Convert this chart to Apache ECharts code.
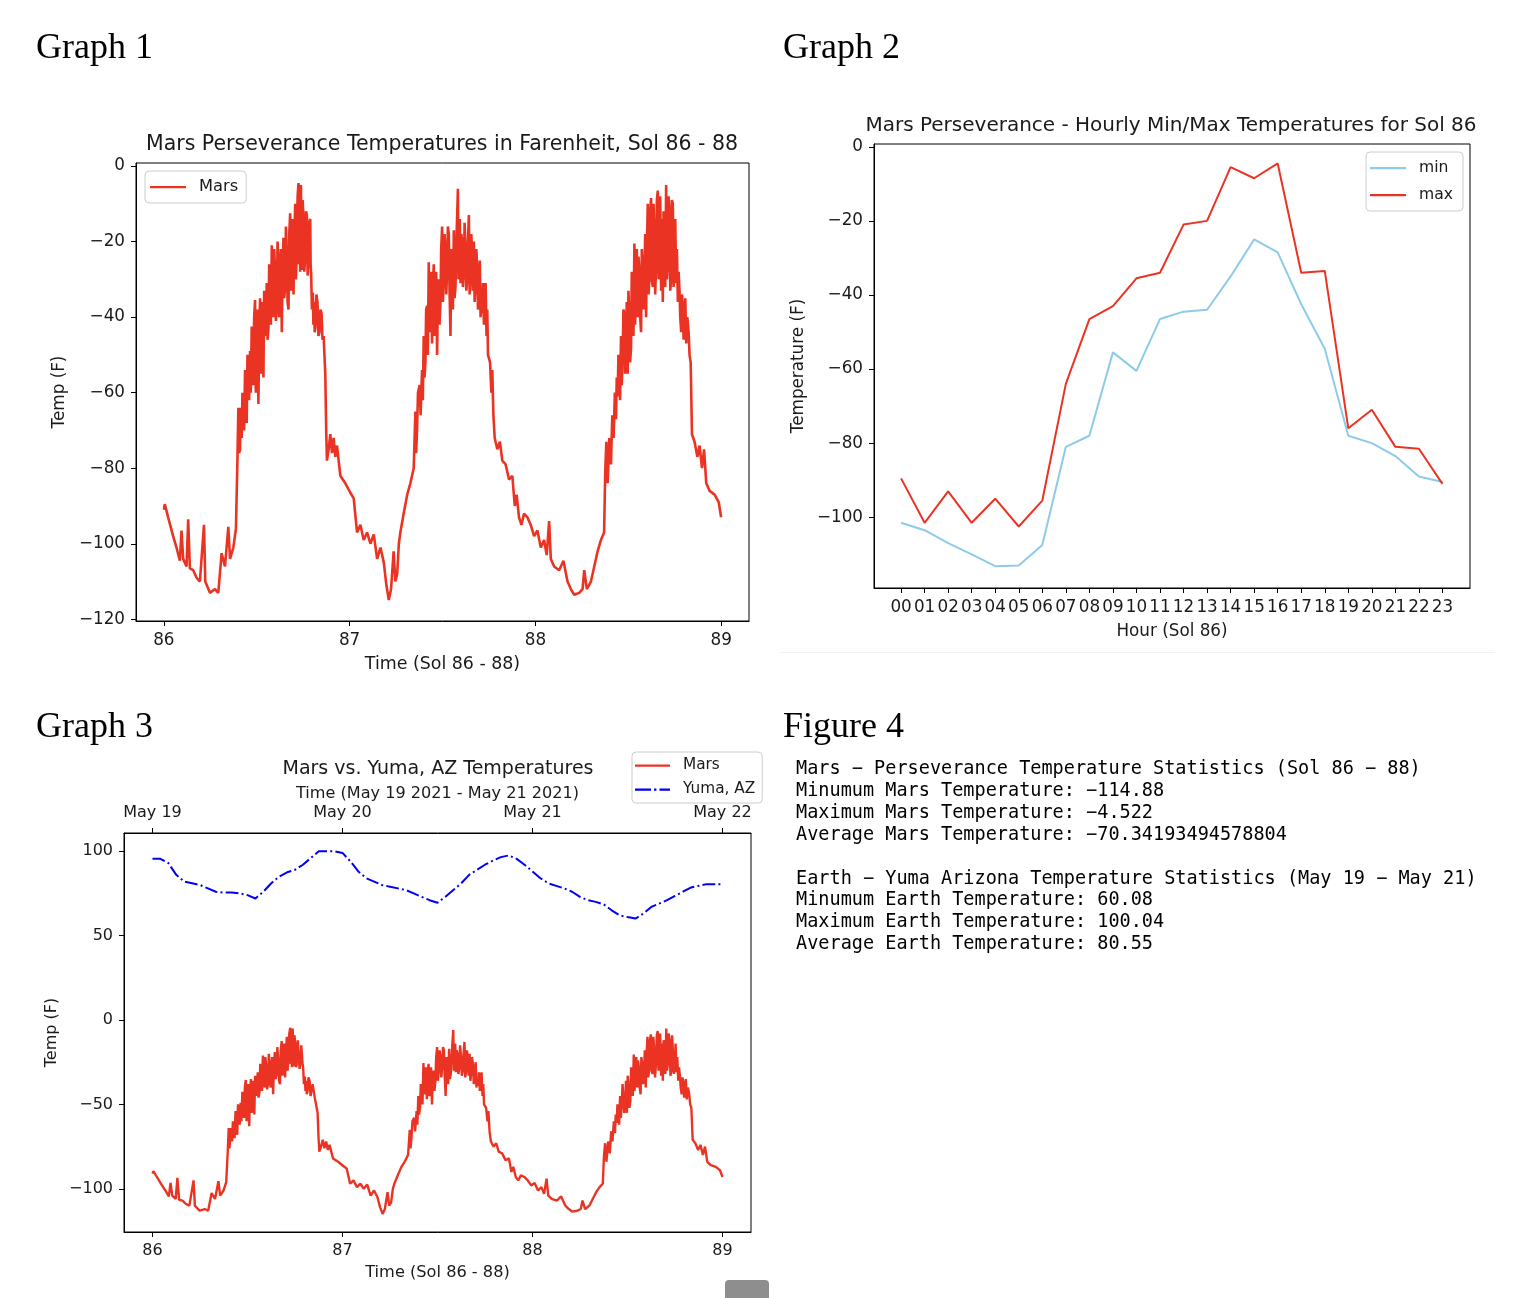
<!DOCTYPE html>
<html>
<head>
<meta charset="utf-8">
<title>Mars Perseverance temperatures</title>
<script src="https://cdn.jsdelivr.net/npm/echarts@6/dist/echarts.min.js"></script>
<style>
body{margin:0;background:#fff;}
#page{position:relative;width:1514px;height:1298px;overflow:hidden;background:#fff;}
#main{position:absolute;left:0;top:0;width:1514px;height:1298px;}
.hd{position:absolute;font-family:"Liberation Serif",serif;font-size:36px;line-height:36px;color:#000;white-space:nowrap;}
#stats{position:absolute;left:796px;top:757px;font-family:"DejaVu Sans Mono",monospace;font-size:18.55px;line-height:21.9px;color:#000;white-space:pre;margin:0;}
#sep{position:absolute;left:780px;top:652px;width:715px;height:1px;background:#f0f0f0;}
#btn{position:absolute;left:725px;top:1280px;width:44px;height:24px;background:#8e8e8e;border-radius:4px;}
</style>
</head>
<body>
<div id="page">
  <div id="main"></div>
  <div class="hd" style="left:36px;top:28px;">Graph 1</div>
  <div class="hd" style="left:783px;top:28px;">Graph 2</div>
  <div class="hd" style="left:36px;top:707px;">Graph 3</div>
  <div class="hd" style="left:783px;top:707px;">Figure 4</div>
  <div id="sep"></div>
  <pre id="stats">Mars − Perseverance Temperature Statistics (Sol 86 − 88)
Minumum Mars Temperature: −114.88
Maximum Mars Temperature: −4.522
Average Mars Temperature: −70.34193494578804

Earth − Yuma Arizona Temperature Statistics (May 19 − May 21)
Minumum Earth Temperature: 60.08
Maximum Earth Temperature: 100.04
Average Earth Temperature: 80.55</pre>
  <div id="btn"></div>
</div>
<script>
// Mars readings [sol, temp F]
var marsSol86 = [[86.000,-91],[86.005,-89.5],[86.023,-93],[86.050,-98],[86.068,-101],[86.086,-104.5],[86.095,-96.5],[86.104,-104],[86.122,-106],[86.131,-93.5],[86.140,-106.5],[86.158,-107],[86.176,-109],[86.194,-110],[86.216,-95],[86.223,-110],[86.248,-113],[86.275,-112],[86.293,-113],[86.311,-102.5],[86.329,-106],[86.347,-95.5],[86.356,-104],[86.374,-101],[86.388,-96],
  [86.396,-78],[86.401,-64],[86.405,-76],[86.410,-75],[86.414,-64],[86.419,-72],[86.423,-60],[86.428,-62],[86.432,-70],[86.437,-54],[86.441,-66],[86.446,-68],[86.450,-50],[86.455,-55],[86.459,-62],[86.464,-49],[86.468,-60],[86.473,-42.5],[86.477,-52],[86.482,-58],[86.486,-40],[86.491,-35.5],[86.495,-60],[86.500,-52],[86.504,-38],[86.509,-63],[86.513,-45],[86.518,-35],[86.522,-55],[86.527,-50],[86.531,-36],[86.536,-56],[86.540,-33],[86.545,-45],[86.549,-40],[86.554,-31],[86.558,-46],[86.563,-43],[86.567,-26],[86.572,-36],[86.576,-42],[86.581,-21],[86.585,-35],[86.590,-40],[86.594,-22],[86.599,-28],[86.603,-41],[86.608,-38],[86.612,-20],[86.617,-25],[86.621,-40],[86.626,-36],[86.630,-22],[86.635,-44],[86.639,-27],[86.644,-19],[86.648,-35],[86.653,-32],[86.657,-16],[86.662,-24],[86.666,-36],[86.671,-38],[86.675,-18],[86.680,-12.5],[86.684,-33],[86.689,-28],[86.693,-14],[86.698,-34],[86.702,-20],[86.707,-10],[86.711,-30],[86.716,-22],[86.720,-8],[86.725,-4.522],[86.727,-26],[86.730,-18],[86.734,-28],[86.738,-5],[86.740,-22],[86.743,-27.5],[86.747,-9],[86.752,-14],[86.756,-28],[86.761,-24],[86.765,-12],[86.770,-13],[86.774,-29],[86.779,-25],[86.783,-15],[86.788,-14],[86.790,-26],[86.793,-28.5],[86.797,-38],[86.802,-33.5],[86.805,-42],[86.809,-36],[86.812,-44],[86.816,-42.5],[86.821,-34],[86.827,-36],[86.832,-45],[86.838,-44],[86.843,-38],[86.849,-39],[86.854,-46],[86.860,-45],
  [86.869,-55],[86.874,-70],[86.878,-78],[86.887,-75],[86.896,-71],[86.905,-76],[86.914,-72],[86.923,-77],[86.932,-74],[86.950,-82],[86.977,-84]];
var marsSol87 = [[87.004,-86.5],[87.022,-88],[87.040,-97],[87.058,-95],[87.076,-99],[87.094,-97],[87.112,-100],[87.130,-97.5],[87.148,-104],[87.166,-101],[87.184,-105],[87.198,-111],[87.211,-114.88],[87.223,-112],[87.237,-102],[87.246,-110],[87.256,-108],[87.265,-100],[87.273,-97],[87.291,-92],[87.310,-87],[87.327,-84],[87.345,-80],
  [87.354,-65],[87.358,-76],[87.363,-70],[87.368,-60],[87.377,-58],[87.382,-66],[87.390,-54],[87.394,-62],[87.399,-45],[87.403,-56],[87.408,-52],[87.412,-38],[87.417,-37],[87.421,-50],[87.426,-25.5],[87.430,-44],[87.435,-40],[87.439,-28],[87.444,-47],[87.448,-32],[87.453,-26],[87.457,-45],[87.462,-42],[87.466,-28],[87.471,-50],[87.475,-34],[87.480,-30],[87.484,-42],[87.489,-36],[87.493,-22],[87.498,-16],[87.502,-36],[87.507,-30],[87.511,-18],[87.516,-22],[87.520,-34],[87.525,-28],[87.529,-16],[87.534,-18],[87.538,-33],[87.543,-45],[87.547,-22],[87.552,-30],[87.556,-38],[87.561,-17],[87.565,-35],[87.570,-32],[87.576,-18],[87.583,-6],[87.586,-30],[87.590,-24],[87.593,-14],[87.597,-31],[87.601,-18],[87.606,-20],[87.610,-32],[87.615,-28],[87.619,-15],[87.624,-22],[87.628,-33],[87.633,-30],[87.637,-20],[87.642,-13],[87.646,-34],[87.651,-30],[87.655,-18],[87.660,-24],[87.664,-33],[87.669,-20],[87.673,-36],[87.678,-31],[87.682,-22],[87.687,-27],[87.691,-38],[87.696,-37],[87.698,-28],[87.701,-25],[87.705,-40],[87.709,-35],[87.714,-39],[87.718,-31],[87.723,-42],[87.727,-35],[87.732,-31],[87.737,-45],[87.741,-38],[87.745,-50],
  [87.756,-52],[87.763,-60],[87.768,-54],[87.774,-66],[87.781,-72],[87.795,-75],[87.809,-73],[87.822,-78],[87.840,-79],[87.858,-83],[87.876,-82],[87.889,-90],[87.899,-87],[87.912,-93],[87.925,-95],[87.939,-92],[87.957,-93],[87.975,-95],[87.993,-98]];
var marsSol88 = [[88.011,-96.5],[88.029,-101],[88.047,-99],[88.061,-103],[88.074,-94],[88.083,-104],[88.101,-106],[88.128,-107],[88.151,-104.5],[88.173,-110],[88.191,-112],[88.209,-113.5],[88.236,-113],[88.254,-112],[88.263,-107],[88.277,-112],[88.299,-110],[88.317,-106],[88.335,-102],[88.353,-99],[88.370,-97],
  [88.376,-81],[88.382,-73],[88.389,-84],[88.398,-72],[88.407,-79],[88.414,-66],[88.421,-72],[88.428,-60],[88.434,-67],[88.438,-56],[88.443,-61],[88.447,-50],[88.452,-55],[88.456,-62],[88.461,-45],[88.465,-58],[88.470,-50],[88.474,-38],[88.479,-39],[88.483,-55],[88.488,-47],[88.492,-36],[88.497,-55],[88.501,-33],[88.506,-40],[88.510,-52],[88.515,-48],[88.519,-28],[88.524,-32],[88.528,-45],[88.533,-20.5],[88.537,-42],[88.542,-30],[88.546,-22],[88.551,-40],[88.555,-24],[88.560,-28],[88.564,-40],[88.569,-44],[88.573,-22],[88.578,-26],[88.582,-38],[88.587,-32],[88.591,-18],[88.596,-40],[88.600,-22],[88.605,-10],[88.609,-34],[88.614,-30],[88.618,-12],[88.623,-8.5],[88.627,-30],[88.632,-32],[88.636,-10],[88.641,-18],[88.645,-34],[88.650,-26],[88.654,-9],[88.659,-6.5],[88.663,-30],[88.668,-22],[88.672,-8],[88.677,-33],[88.681,-14],[88.686,-36],[88.690,-12],[88.695,-15],[88.699,-32],[88.704,-5],[88.708,-30],[88.713,-26],[88.717,-8],[88.722,-12],[88.726,-33],[88.731,-30],[88.735,-9],[88.740,-10],[88.744,-32],[88.749,-25],[88.753,-14],[88.758,-31],[88.762,-22],[88.767,-36],[88.771,-28],[88.776,-33],[88.780,-40],[88.785,-44],[88.789,-34],[88.794,-37],[88.798,-46],[88.803,-41],[88.807,-35],[88.812,-47],[88.818,-40],[88.825,-44],[88.830,-50],[88.836,-52],
  [88.843,-71],[88.857,-73],[88.872,-77],[88.884,-74],[88.897,-80],[88.908,-75],[88.920,-84],[88.938,-86],[88.965,-87],[88.987,-89],[89.000,-93]];
var marsAll = marsSol86.concat(marsSol87, marsSol88);

var solTicks = [86, 87, 88, 89];

// hourly min / max for sol 86
var hourLabels = ['00','01','02','03','04','05','06','07','08','09','10','11','12','13','14','15','16','17','18','19','20','21','22','23'];
var hourlyMin = [-101.5,-103.5,-107,-110,-113.2,-113,-107.5,-81,-78,-55.5,-60.5,-46.5,-44.5,-44,-35,-25,-28.5,-42.5,-54.5,-78,-80,-83.5,-89,-90.5];
var hourlyMax = [-89.5,-101.5,-93,-101.5,-95,-102.5,-95.5,-64,-46.5,-43,-35.5,-34,-21,-20,-5.5,-8.5,-4.5,-34,-33.5,-76,-71,-81,-81.5,-91];

// Yuma, AZ hourly temps from May 19 00:00 to May 22 00:00
var yumaTemp = [95.5,95.5,93,86,82,81,80,78,76,75.5,75.5,75,74,72,76,81,85,87.5,89,92,96,100,100.04,100,
  99,94,88,84,82,80,79,78,77,75,73,71,69.5,73,77,81,86,89,92,94.5,96.5,97.5,95.5,92,
  88,84,81,79.5,78,76,73,71,70,68.5,65,62,61,60.08,63,67,69,71,73.5,76,78.5,79.5,80.5,80.5,80.5];
var dayTicks = [0, 24, 48, 72];
var dayLabels = ['May 19', 'May 20', 'May 21', 'May 22'];

var RED = '#eb3323', SKY = '#8dcbea', BLUE = '#0000f5', INK = '#1a1a1a';
var FONT = 'DejaVu Sans';
// legend samples: plain line and dash-dot line
var ICON_LINE = 'path://M0,0M36,14M0,6h36v2.2h-36z';
var ICON_DASHDOT = 'path://M0,0M35,14M0,6h16v2.2h-16zM19,6h2.4v2.2h-2.4zM24.5,6h10.5v2.2h-10.5z';

function fmt(v){
  return v < 0 ? '\u2212' + Math.abs(v) : String(v);
}

function valAxis(o){
  var fs = o.fontSize || 16.8;
  return {
    type: 'value',
    gridIndex: o.grid,
    position: o.position,
    min: o.min,
    max: o.max,
    name: o.name,
    nameLocation: 'middle',
    nameGap: o.nameGap,
    nameTextStyle: {color: INK, fontSize: o.nameSize || fs, fontFamily: FONT},
    axisLine: {show: true, onZero: false, lineStyle: {color: '#000', width: 1}},
    axisTick: {show: true, length: 5, lineStyle: {color: '#000', width: 1}, customValues: o.ticks},
    axisLabel: {color: INK, fontSize: fs, fontFamily: FONT, margin: o.margin || 10,
      customValues: o.ticks, formatter: o.formatter || fmt},
    splitLine: {show: false}
  };
}

function legendBox(o){
  return {
    data: o.data, left: o.left, top: o.top, orient: 'vertical',
    itemWidth: o.itemWidth, itemHeight: 14, itemGap: o.itemGap || 10,
    padding: o.padding, borderColor: '#cccccc', borderWidth: 1, borderRadius: 4,
    backgroundColor: 'rgba(255,255,255,0.8)', selectedMode: false,
    textStyle: {fontSize: o.fontSize, color: INK, fontFamily: FONT, padding: [0, 0, 0, 8]}
  };
}

var chart = echarts.init(document.getElementById('main'));
var yTicks1 = [-120,-100,-80,-60,-40,-20,0];
var yTicks2 = [-100,-80,-60,-40,-20,0];
var yTicks3 = [-100,-50,0,50,100];
var hourIdx = hourLabels.map(function(h, i){ return i; });

var option = {
  animation: false,
  backgroundColor: 'transparent',
  textStyle: {fontFamily: FONT},
  title: [
    {text: 'Mars Perseverance Temperatures in Farenheit, Sol 86 - 88', left: 442, top: 134, textAlign: 'center', padding: 0,
      textStyle: {fontSize: 20.5, fontWeight: 'normal', color: INK, fontFamily: FONT}},
    {text: 'Mars Perseverance - Hourly Min/Max Temperatures for Sol 86', left: 1171, top: 116, textAlign: 'center', padding: 0,
      textStyle: {fontSize: 20, fontWeight: 'normal', color: INK, fontFamily: FONT}},
    {text: 'Mars vs. Yuma, AZ Temperatures', left: 438, top: 760, textAlign: 'center', padding: 0,
      textStyle: {fontSize: 19, fontWeight: 'normal', color: INK, fontFamily: FONT}}
  ],
  legend: [
    legendBox({data: [{name: 'Mars', icon: ICON_LINE}], left: 145, top: 171, itemWidth: 36,
      padding: [8, 8, 8, 5], fontSize: 16.3}),
    legendBox({data: [{name: 'min', icon: ICON_LINE}, {name: 'max', icon: ICON_LINE}], left: 1366, top: 152, itemWidth: 36, itemGap: 11,
      padding: [8, 10, 8, 4], fontSize: 15.6}),
    legendBox({data: [{name: 'Mars', icon: ICON_LINE}, {name: 'Yuma, AZ', icon: ICON_DASHDOT}], left: 632, top: 752, itemWidth: 35, itemGap: 9,
      padding: [6, 7, 6, 3], fontSize: 15.3})
  ],
  grid: [
    {left: 136, top: 163, width: 613, height: 458, show: true, borderColor: '#000', borderWidth: 1, backgroundColor: 'transparent'},
    {left: 874, top: 144, width: 596, height: 444, show: true, borderColor: '#000', borderWidth: 1, backgroundColor: 'transparent'},
    {left: 124, top: 833, width: 627, height: 399, show: true, borderColor: '#000', borderWidth: 1, backgroundColor: 'transparent'}
  ],
  xAxis: [
    valAxis({grid: 0, position: 'bottom', min: 85.85, max: 89.15, ticks: solTicks, name: 'Time (Sol 86 - 88)', nameGap: 35, margin: 11, nameSize: 17.4}),
    valAxis({grid: 1, position: 'bottom', min: -1.15, max: 24.17, ticks: hourIdx, name: 'Hour (Sol 86)', nameGap: 35, margin: 11,
      formatter: function(v){ return hourLabels[v]; }}),
    valAxis({grid: 2, position: 'bottom', min: 85.85, max: 89.15, ticks: solTicks, name: 'Time (Sol 86 - 88)', nameGap: 33, margin: 11, fontSize: 16, nameSize: 16.2}),
    valAxis({grid: 2, position: 'top', min: -3.6, max: 75.6, ticks: dayTicks, name: 'Time (May 19 2021 - May 21 2021)', nameGap: 31, margin: 12, fontSize: 16, nameSize: 16.1,
      formatter: function(v){ return dayLabels[dayTicks.indexOf(v)]; }})
  ],
  yAxis: [
    valAxis({grid: 0, position: 'left', min: -120.45, max: 0.8, ticks: yTicks1, name: 'Temp (F)', nameGap: 68, margin: 11}),
    valAxis({grid: 1, position: 'left', min: -119.1, max: 0.75, ticks: yTicks2, name: 'Temperature (F)', nameGap: 67, margin: 11}),
    valAxis({grid: 2, position: 'left', min: -125.6, max: 110.8, ticks: yTicks3, name: 'Temp (F)', nameGap: 64, margin: 11, fontSize: 16})
  ],
  series: [
    {name: 'Mars', type: 'line', xAxisIndex: 0, yAxisIndex: 0, data: marsAll, symbol: 'none', showSymbol: false,
      lineStyle: {color: RED, width: 2.6}, itemStyle: {color: RED}},
    {name: 'min', type: 'line', xAxisIndex: 1, yAxisIndex: 1, symbol: 'none', showSymbol: false,
      data: hourlyMin.map(function(v, i){ return [i, v]; }),
      lineStyle: {color: SKY, width: 2}, itemStyle: {color: SKY}},
    {name: 'max', type: 'line', xAxisIndex: 1, yAxisIndex: 1, symbol: 'none', showSymbol: false,
      data: hourlyMax.map(function(v, i){ return [i, v]; }),
      lineStyle: {color: RED, width: 2}, itemStyle: {color: RED}},
    {name: 'Mars', type: 'line', xAxisIndex: 2, yAxisIndex: 2, data: marsAll, symbol: 'none', showSymbol: false,
      lineStyle: {color: RED, width: 2.4}, itemStyle: {color: RED}},
    {name: 'Yuma, AZ', type: 'line', xAxisIndex: 3, yAxisIndex: 2, symbol: 'none', showSymbol: false,
      data: yumaTemp.map(function(v, i){ return [i, v]; }),
      lineStyle: {color: BLUE, width: 2, type: [12.8, 3.2, 2, 3.2]}, itemStyle: {color: BLUE}}
  ]
};
chart.setOption(option);
</script>
</body>
</html>
